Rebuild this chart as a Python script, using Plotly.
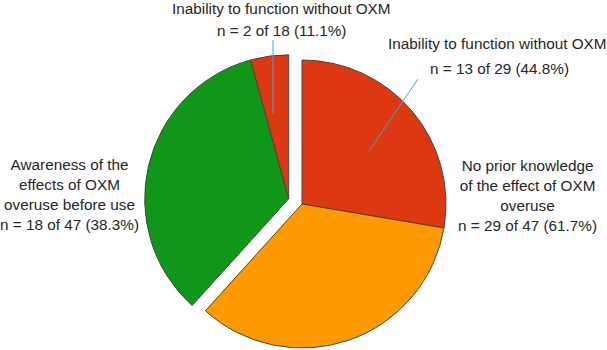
import plotly.graph_objects as go

W, H = 607, 350

# ---- data ----
slice_labels = ["Inability to function (no prior knowledge)",
                "Other (no prior knowledge)",
                "Other (awareness)",
                "Inability to function (awareness)"]
slice_values = [13, 16, 16, 2]
slice_colors = ["#DC3912", "#FF9900", "#109618", "#DC3912"]
group_of_slice = ["right", "right", "left", "left"]

label_lines = {
    "top1": "Inability to function without OXM",
    "top2": "n = 2 of 18 (11.1%)",
    "ur1": "Inability to function without OXM",
    "ur2": "n = 13 of 29 (44.8%)",
    "left": "Awareness of the<br>effects of OXM<br>overuse before use<br>n = 18 of 47 (38.3%)",
    "right": "No prior knowledge<br>of the effect of OXM<br>overuse<br>n = 29 of 47 (61.7%)",
}

# ---- layout helpers ----
def px_x(x):
    return x / W

def px_y(y):
    return 1 - y / H

R = 144
centers = {"right": (302, 204), "left": (288.7, 198.8)}

fig = go.Figure()
for grp in ["right", "left"]:
    cx, cy = centers[grp]
    cols = [c if g == grp else "rgba(0,0,0,0)" for c, g in zip(slice_colors, group_of_slice)]
    lcols = ["#444444" if g == grp else "rgba(0,0,0,0)" for g in group_of_slice]
    lw = [1 if g == grp else 0 for g in group_of_slice]
    fig.add_trace(go.Pie(
        labels=slice_labels,
        values=slice_values,
        sort=False,
        direction="clockwise",
        rotation=0,
        textinfo="none",
        hoverinfo="skip",
        showlegend=False,
        marker=dict(colors=cols, line=dict(color=lcols, width=lw)),
        domain=dict(x=[px_x(cx - R), px_x(cx + R)],
                    y=[px_y(cy + R), px_y(cy - R)]),
    ))

font = dict(family="Liberation Sans, Arial, sans-serif", size=15.3, color="#262626")
ann_pos = {
    "top1": (281, 8),
    "top2": (281, 31),
    "ur1": (497, 44),
    "ur2": (499, 68),
    "left": (69, 194),
    "right": (527, 195),
}
for key, (x, y) in ann_pos.items():
    fig.add_annotation(text=label_lines[key], x=px_x(x), y=px_y(y),
                       xref="paper", yref="paper", showarrow=False,
                       xanchor="center", yanchor="middle", align="center",
                       font=font)

leader = dict(color="#4A9FDB", width=1)
for (x0, y0, x1, y1) in [(273, 40, 273, 114), (418, 79, 369, 151)]:
    fig.add_shape(type="line", xref="paper", yref="paper",
                  x0=px_x(x0), y0=px_y(y0), x1=px_x(x1), y1=px_y(y1),
                  line=leader)

fig.update_layout(width=W, height=H, margin=dict(l=0, r=0, t=0, b=0),
                  paper_bgcolor="white", plot_bgcolor="white")
fig.write_html("out.html")
